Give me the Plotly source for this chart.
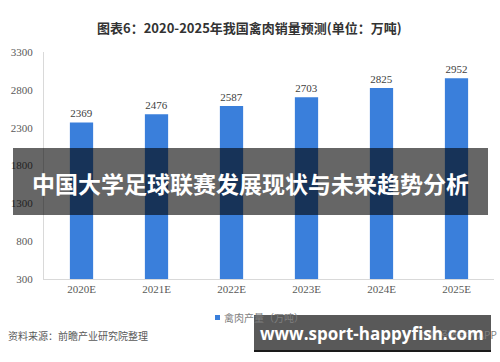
import plotly.graph_objects as go

categories = ["2020E", "2021E", "2022E", "2023E", "2024E", "2025E"]
values = [2369, 2476, 2587, 2703, 2825, 2952]
y_ticks = [300, 800, 1300, 1800, 2300, 2800, 3300]
title_text = "图表6：2020-2025年我国禽肉销量预测(单位：万吨)"
legend_text = "禽肉产量（万吨）"
source_text = "资料来源：前瞻产业研究院整理"
app_text = "前瞻经济学人APP"
banner_text = "中国大学足球联赛发展现状与未来趋势分析"
url_text = "www.sport-happyfish.com"

serif = "Liberation Serif, Noto Serif CJK SC, serif"
cjk = "Noto Sans CJK SC, sans-serif"

PL, PR, PT, PB = 44, 494, 52, 279
PW, PH = PR - PL, PB - PT


def px(x):
    return (x - PL) / PW


def py(y):
    return (PB - y) / PH


fig = go.Figure()
fig.add_trace(go.Bar(
    x=categories, y=values, name=legend_text,
    marker=dict(color="#3a7fdb", line=dict(width=0)),
    text=[str(v) for v in values], textposition="outside",
    textfont=dict(family=serif, size=11, color="#404040"),
    cliponaxis=False,
))

fig.update_layout(
    width=500, height=362,
    margin=dict(l=PL, r=500 - PR, t=PT, b=362 - PB),
    paper_bgcolor="white", plot_bgcolor="white",
    bargap=0.69,
    showlegend=False,
    xaxis=dict(showgrid=False, showline=True, linecolor="#d9d9d9", linewidth=1,
               ticks="", tickfont=dict(family=serif, size=11, color="#595959")),
    yaxis=dict(range=[300, 3300], tickvals=y_ticks, showgrid=False,
               showline=True, linecolor="#d9d9d9", linewidth=1, zeroline=False,
               ticks="", tickfont=dict(family=serif, size=11, color="#595959"),
               ticklabelstandoff=8),
    font=dict(family=cjk),
)

# title
fig.add_annotation(text="<b>" + title_text + "</b>", xref="paper", yref="paper",
                   x=px(249), y=py(27), xanchor="center", yanchor="middle",
                   showarrow=False, font=dict(family=cjk, size=13, color="#333333"))

# legend
fig.add_shape(type="rect", xref="paper", yref="paper",
              x0=px(215), x1=px(220), y0=py(320), y1=py(315),
              fillcolor="#3a7fdb", line=dict(width=0))
fig.add_annotation(text=legend_text, xref="paper", yref="paper",
                   x=px(222), y=py(317.5), xanchor="left", yanchor="middle",
                   showarrow=False, font=dict(family=cjk, size=10, color="#7f7f7f"))

# source text
fig.add_annotation(text=source_text, xref="paper", yref="paper",
                   x=px(6), y=py(335), xanchor="left", yanchor="middle",
                   showarrow=False, font=dict(family=cjk, size=10, color="#595959"))
fig.add_annotation(text=app_text, xref="paper", yref="paper",
                   x=px(499), y=py(334), xanchor="right", yanchor="middle",
                   showarrow=False, font=dict(family=cjk, size=10, color="#7f7f7f"))

# middle banner
fig.add_shape(type="rect", xref="paper", yref="paper",
              x0=px(13), x1=px(488), y0=py(215), y1=py(148),
              fillcolor="rgba(0,0,0,0.6)", line=dict(width=0), layer="above")
fig.add_annotation(text="<b>" + banner_text + "</b>", xref="paper", yref="paper",
                   x=px(250.5), y=py(183), xanchor="center", yanchor="middle",
                   showarrow=False, font=dict(family=cjk, size=23, color="white"))

# bottom url box
fig.add_shape(type="rect", xref="paper", yref="paper",
              x0=px(254), x1=px(491), y0=py(352), y1=py(315),
              fillcolor="#595959", line=dict(width=0), layer="above")
fig.add_shape(type="line", xref="paper", yref="paper",
              x0=px(254), x1=px(491), y0=py(351), y1=py(351),
              line=dict(color="#1a1a1a", width=2), layer="above")
fig.add_annotation(text="<b>" + url_text + "</b>", xref="paper", yref="paper",
                   x=px(372), y=py(333), xanchor="center", yanchor="middle",
                   showarrow=False, font=dict(family="Open Sans, DejaVu Sans, sans-serif", size=17, color="white"))

fig.write_html("out.html", config={"displayModeBar": False},
               post_script="document.body.style.margin='0';")
